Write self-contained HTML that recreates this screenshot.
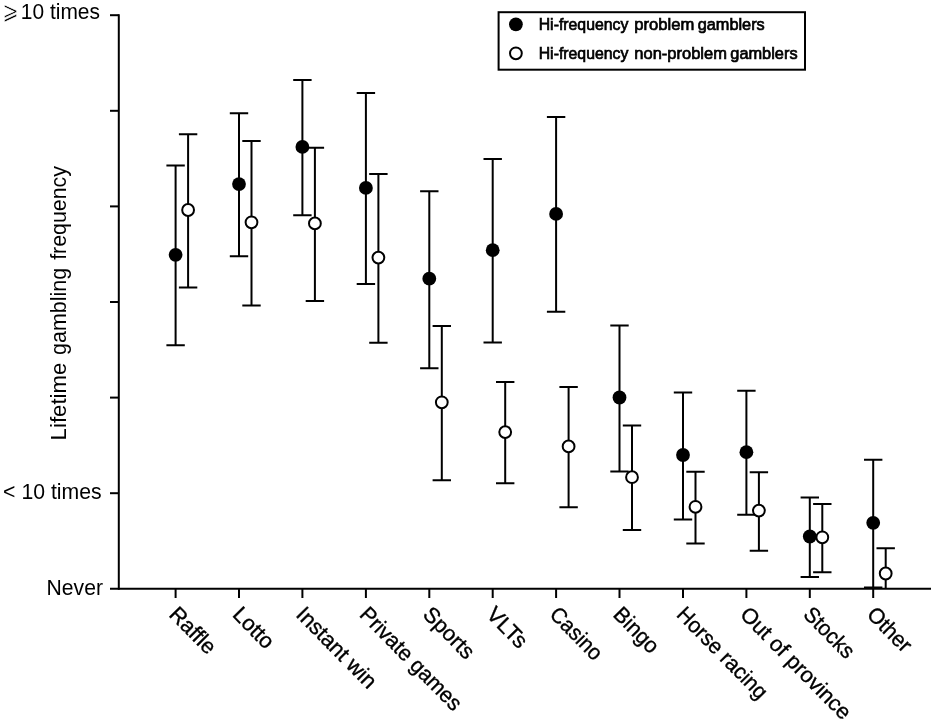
<!DOCTYPE html>
<html lang="en"><head><meta charset="utf-8"><title>Lifetime gambling frequency</title>
<style>html,body{margin:0;padding:0;background:#fff}body{width:931px;height:724px;overflow:hidden}svg{display:block}text{font-family:"Liberation Sans","DejaVu Sans",sans-serif;fill:#000}</style></head><body>
<svg width="931" height="724" viewBox="0 0 931 724">
<rect width="931" height="724" fill="#fff"/>
<g stroke="#000" stroke-width="2" fill="none" stroke-linecap="butt">
<path d="M118.8 14.2V589.8"/>
<path d="M110 588.8H931"/>
<path d="M110 15.2H118.8"/>
<path d="M110 110.8H118.8"/>
<path d="M110 206.4H118.8"/>
<path d="M110 302.0H118.8"/>
<path d="M110 397.6H118.8"/>
<path d="M110 493.2H118.8"/>
<path d="M175.6 588.8V598"/>
<path d="M239.0 588.8V598"/>
<path d="M302.4 588.8V598"/>
<path d="M365.9 588.8V598"/>
<path d="M429.3 588.8V598"/>
<path d="M492.7 588.8V598"/>
<path d="M556.1 588.8V598"/>
<path d="M619.5 588.8V598"/>
<path d="M683.0 588.8V598"/>
<path d="M746.4 588.8V598"/>
<path d="M809.8 588.8V598"/>
<path d="M873.2 588.8V598"/>
</g>
<g stroke="#000" stroke-width="2" fill="none">
<path d="M175.6 165.6V345.3M166.4 165.6H184.8M166.4 345.3H184.8"/>
<path d="M239.0 113.2V256.2M229.8 113.2H248.2M229.8 256.2H248.2"/>
<path d="M302.4 80.1V215.3M293.2 80.1H311.6M293.2 215.3H311.6"/>
<path d="M365.9 93.0V283.9M356.7 93.0H375.1M356.7 283.9H375.1"/>
<path d="M429.3 191.3V368.2M420.1 191.3H438.5M420.1 368.2H438.5"/>
<path d="M492.7 158.9V342.5M483.5 158.9H501.9M483.5 342.5H501.9"/>
<path d="M556.1 117.0V311.8M546.9 117.0H565.3M546.9 311.8H565.3"/>
<path d="M619.5 325.5V471.6M610.3 325.5H628.7M610.3 471.6H628.7"/>
<path d="M683.0 392.4V519.5M673.8 392.4H692.2M673.8 519.5H692.2"/>
<path d="M746.4 390.7V514.8M737.2 390.7H755.6M737.2 514.8H755.6"/>
<path d="M809.8 497.4V577.0M800.6 497.4H819.0M800.6 577.0H819.0"/>
<path d="M873.2 459.7V587.4M864.0 459.7H882.4M864.0 587.4H882.4"/>
<path d="M188.1 134.3V287.5M178.9 134.3H197.3M178.9 287.5H197.3"/>
<path d="M251.5 141.0V305.4M242.3 141.0H260.7M242.3 305.4H260.7"/>
<path d="M314.9 147.7V300.9M305.7 147.7H324.1M305.7 300.9H324.1"/>
<path d="M378.4 173.9V342.8M369.2 173.9H387.6M369.2 342.8H387.6"/>
<path d="M441.8 326.0V480.2M432.6 326.0H451.0M432.6 480.2H451.0"/>
<path d="M505.2 381.9V483.2M496.0 381.9H514.4M496.0 483.2H514.4"/>
<path d="M568.6 386.9V507.2M559.4 386.9H577.8M559.4 507.2H577.8"/>
<path d="M632.0 425.5V530.1M622.8 425.5H641.2M622.8 530.1H641.2"/>
<path d="M695.5 471.8V543.5M686.3 471.8H704.7M686.3 543.5H704.7"/>
<path d="M758.9 472.3V550.8M749.7 472.3H768.1M749.7 550.8H768.1"/>
<path d="M822.3 504.1V572.2M813.1 504.1H831.5M813.1 572.2H831.5"/>
<path d="M885.7 548.3V588.8M876.5 548.3H894.9"/>
</g>
<g fill="#000">
<circle cx="175.6" cy="254.8" r="6.9"/>
<circle cx="239.0" cy="184.1" r="6.9"/>
<circle cx="302.4" cy="146.9" r="6.9"/>
<circle cx="365.9" cy="187.9" r="6.9"/>
<circle cx="429.3" cy="278.7" r="6.9"/>
<circle cx="492.7" cy="250.2" r="6.9"/>
<circle cx="556.1" cy="213.9" r="6.9"/>
<circle cx="619.5" cy="397.5" r="6.9"/>
<circle cx="683.0" cy="455.0" r="6.9"/>
<circle cx="746.4" cy="452.2" r="6.9"/>
<circle cx="809.8" cy="536.5" r="6.9"/>
<circle cx="873.2" cy="522.8" r="6.9"/>
</g>
<g fill="#fff" stroke="#000" stroke-width="2">
<circle cx="188.1" cy="210.0" r="5.9"/>
<circle cx="251.5" cy="222.3" r="5.9"/>
<circle cx="314.9" cy="223.4" r="5.9"/>
<circle cx="378.4" cy="257.6" r="5.9"/>
<circle cx="441.8" cy="402.3" r="5.9"/>
<circle cx="505.2" cy="432.1" r="5.9"/>
<circle cx="568.6" cy="446.4" r="5.9"/>
<circle cx="632.0" cy="477.2" r="5.9"/>
<circle cx="695.5" cy="506.8" r="5.9"/>
<circle cx="758.9" cy="510.6" r="5.9"/>
<circle cx="822.3" cy="537.3" r="5.9"/>
<circle cx="885.7" cy="573.5" r="5.9"/>
</g>
<g font-size="21.8">
<text transform="translate(2.6 18.9) scale(1 1.28)" font-size="19" stroke="#fff" stroke-width="0.45">⩾</text>
<text x="20.8" y="18.9" textLength="79.2" lengthAdjust="spacingAndGlyphs">10 times</text>
<text x="3.1" y="499.1" textLength="98.5" lengthAdjust="spacingAndGlyphs">&lt; 10 times</text>
<text x="46.6" y="595.1" textLength="56.4" lengthAdjust="spacingAndGlyphs">Never</text>
</g>
<text font-size="21.8" transform="translate(65.6 440) rotate(-90)"><tspan x="-0.4" textLength="77.7" lengthAdjust="spacingAndGlyphs">Lifetime</tspan> <tspan x="85.0" textLength="87.2" lengthAdjust="spacingAndGlyphs">gambling</tspan> <tspan x="180.2" textLength="93.8" lengthAdjust="spacingAndGlyphs">frequency</tspan></text>
<g font-size="21.8" stroke="#000" stroke-width="0.35">
<text transform="translate(168.1 615.6) rotate(45.5)" textLength="56.0" lengthAdjust="spacingAndGlyphs">Raffle</text>
<text transform="translate(231.5 615.6) rotate(45.5)" textLength="48.5" lengthAdjust="spacingAndGlyphs">Lotto</text>
<text transform="translate(294.9 615.6) rotate(45.5)" textLength="104.2" lengthAdjust="spacingAndGlyphs">Instant win</text>
<text transform="translate(358.4 615.6) rotate(45.5)" textLength="135.2" lengthAdjust="spacingAndGlyphs">Private games</text>
<text transform="translate(421.8 615.6) rotate(45.5)" textLength="63.0" lengthAdjust="spacingAndGlyphs">Sports</text>
<text transform="translate(485.2 615.6) rotate(45.5)" textLength="47.8" lengthAdjust="spacingAndGlyphs">VLTs</text>
<text transform="translate(548.6 615.6) rotate(45.5)" textLength="64.5" lengthAdjust="spacingAndGlyphs">Casino</text>
<text transform="translate(612.0 615.6) rotate(45.5)" textLength="54.9" lengthAdjust="spacingAndGlyphs">Bingo</text>
<text transform="translate(675.5 615.6) rotate(45.5)" textLength="119.0" lengthAdjust="spacingAndGlyphs">Horse racing</text>
<text transform="translate(738.9 615.6) rotate(45.5)" textLength="147.8" lengthAdjust="spacingAndGlyphs">Out of province</text>
<text transform="translate(802.3 615.6) rotate(45.5)" textLength="62.2" lengthAdjust="spacingAndGlyphs">Stocks</text>
<text transform="translate(865.7 615.6) rotate(45.5)" textLength="53.4" lengthAdjust="spacingAndGlyphs">Other</text>
</g>
<rect x="498.6" y="12.2" width="306.4" height="57.5" fill="#fff" stroke="#000" stroke-width="2"/>
<circle cx="515.9" cy="24.3" r="6.9" fill="#000"/>
<circle cx="515.9" cy="53.3" r="5.9" fill="#fff" stroke="#000" stroke-width="2"/>
<g font-size="16.8" stroke="#000" stroke-width="0.7">
<text y="29.8"><tspan x="538.7" textLength="89.7" lengthAdjust="spacingAndGlyphs">Hi-frequency</tspan> <tspan x="634.3" textLength="60.0" lengthAdjust="spacingAndGlyphs">problem</tspan> <tspan x="697.7" textLength="67.1" lengthAdjust="spacingAndGlyphs">gamblers</tspan></text>
<text y="58.8"><tspan x="538.7" textLength="89.7" lengthAdjust="spacingAndGlyphs">Hi-frequency</tspan> <tspan x="634.3" textLength="92.6" lengthAdjust="spacingAndGlyphs">non-problem</tspan> <tspan x="730.3" textLength="67.3" lengthAdjust="spacingAndGlyphs">gamblers</tspan></text>
</g>
</svg>
</body></html>
